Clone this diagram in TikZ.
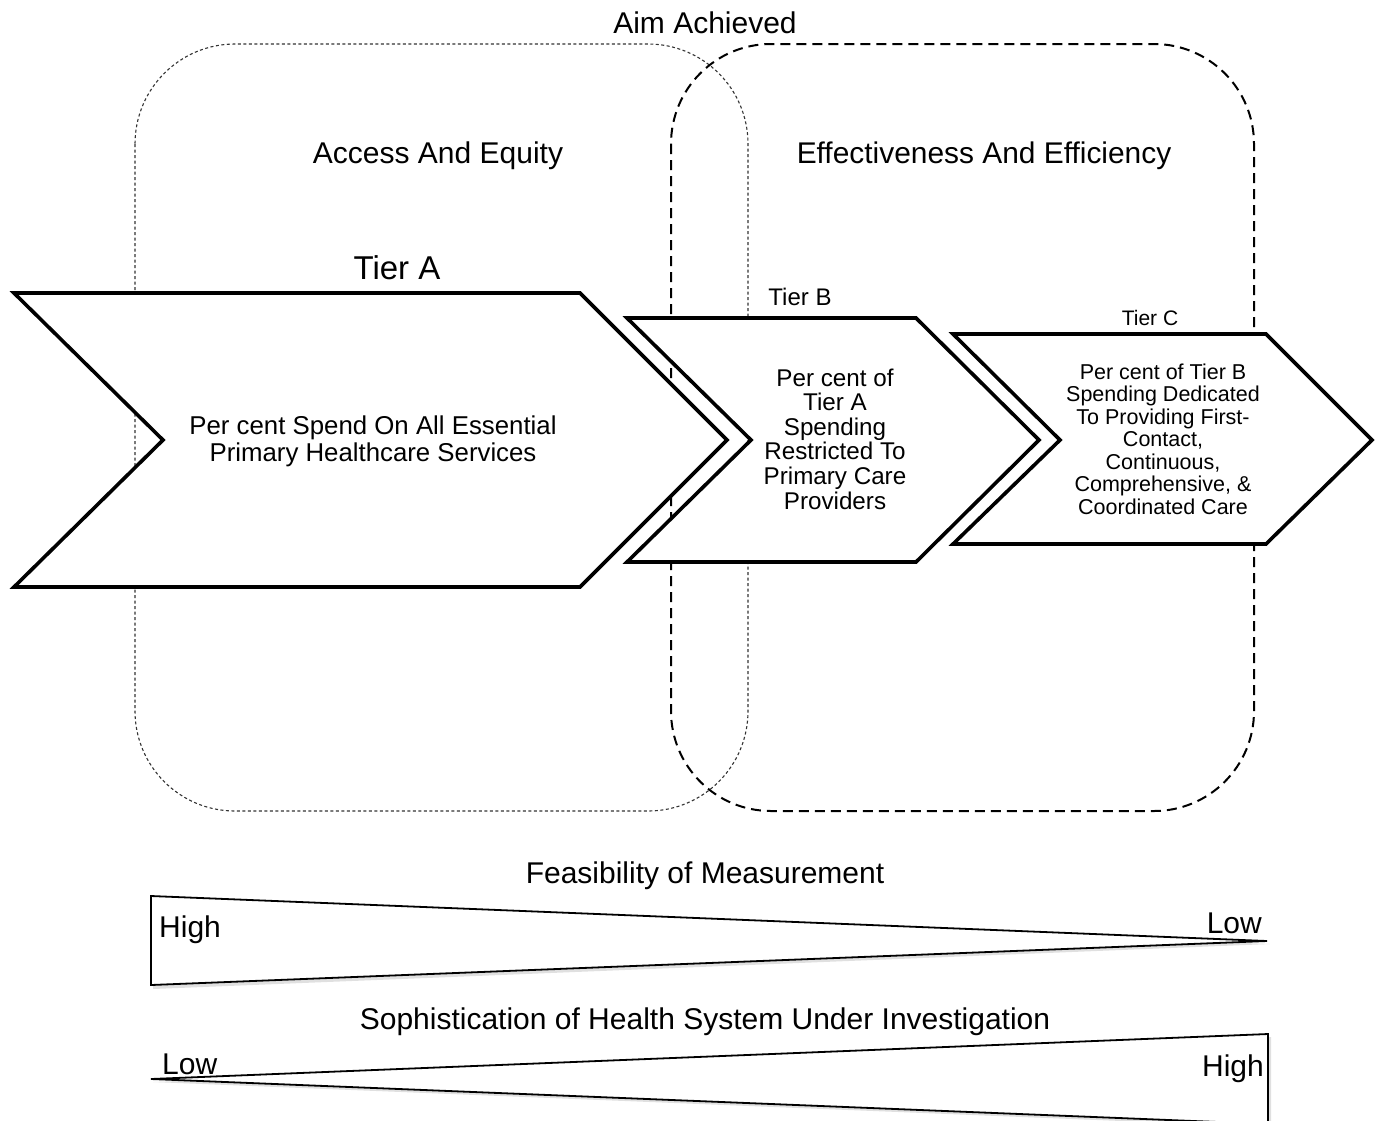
\documentclass[tikz,border=0pt]{standalone}
\usepackage{fontspec}
\setmainfont{Liberation Sans}
\begin{document}
\begin{tikzpicture}[x=1pt,y=-1pt,
  chev/.style={draw=black,line width=3.6pt,fill=white,line join=miter},
  zoneA/.style={draw=black!80,line width=1.1pt,dash pattern=on 3pt off 2.5pt,rounded corners=100pt},
  zoneB/.style={draw=black,line width=2pt,dash pattern=on 10pt off 6pt,rounded corners=100pt},
  wedge/.style={draw=black,line width=1.8pt,fill=white,line join=miter},
  shadow/.style={fill=black!12,draw=none},
  big/.style={font=\fontsize{30}{35}\selectfont},
  lbl/.style={inner sep=0pt,anchor=base}
]
\useasboundingbox (0,0) rectangle (1380,1120);

% zones
\draw[zoneA] (135,44) rectangle (748,811);
\draw[zoneB] (671,44) rectangle (1254,811);

% chevrons
\draw[chev] (953,334) -- (1266,334) -- (1372,440) -- (1266,544) -- (953,544) -- (1060,440) -- cycle;
\draw[chev] (627,318) -- (916,318) -- (1039,440) -- (916,562) -- (627,562) -- (751,440) -- cycle;
\draw[chev] (14,293) -- (580,293) -- (727,440) -- (580,587) -- (14,587) -- (163,440) -- cycle;

% labels
\node[lbl,big] (aim) at (705,33) {Aim Achieved};
\node[lbl,big] (acc) at (438,163) {Access And Equity};
\node[lbl,font=\fontsize{29.9}{35}\selectfont] (eff) at (984,163) {Effectiveness And Efficiency};
\node[lbl,font=\fontsize{33}{38}\selectfont] (tA) at (397,279) {Tier A};
\node[lbl,font=\fontsize{24}{28}\selectfont] (tB) at (800,305.5) {Tier B};
\node[lbl,font=\fontsize{21}{24}\selectfont] (tC) at (1150,325.5) {Tier C};

\node[align=center,inner sep=0pt,font=\fontsize{25.8}{27}\selectfont] (txtA) at (373,441)
  {Per cent Spend On All Essential\\Primary Healthcare Services};
\node[align=center,inner sep=0pt,font=\fontsize{24.2}{24.6}\selectfont] (txtB) at (835,439)
  {Per cent of\\Tier A\\Spending\\Restricted To\\Primary Care\\Providers};
\node[align=center,inner sep=0pt,font=\fontsize{21.5}{22.5}\selectfont] (txtC) at (1163,439)
  {Per cent of Tier B\\Spending Dedicated\\To Providing First-\\Contact,\\Continuous,\\Comprehensive, \&\\Coordinated Care};

% feasibility wedge
\node[lbl,big] (feas) at (705,883) {Feasibility of Measurement};
\fill[shadow] (153,899) -- (1270,944) -- (153,989) -- cycle;
\draw[wedge] (151,896) -- (1267,941) -- (151,985) -- cycle;
\node[lbl,big,anchor=base west] (hi1) at (159,937) {High};
\node[lbl,big,anchor=base east] (lo1) at (1262,933) {Low};

% sophistication wedge
\node[lbl,big] (soph) at (705,1029) {Sophistication of Health System Under Investigation};
\fill[shadow] (153,1082) -- (1271,1037) -- (1271,1127) -- cycle;
\draw[wedge] (151,1079) -- (1268,1034) -- (1268,1124) -- cycle;
\node[lbl,big,anchor=base west] (lo2) at (162,1074) {Low};
\node[lbl,big,anchor=base east] (hi2) at (1264,1076) {High};
\end{tikzpicture}
\end{document}
